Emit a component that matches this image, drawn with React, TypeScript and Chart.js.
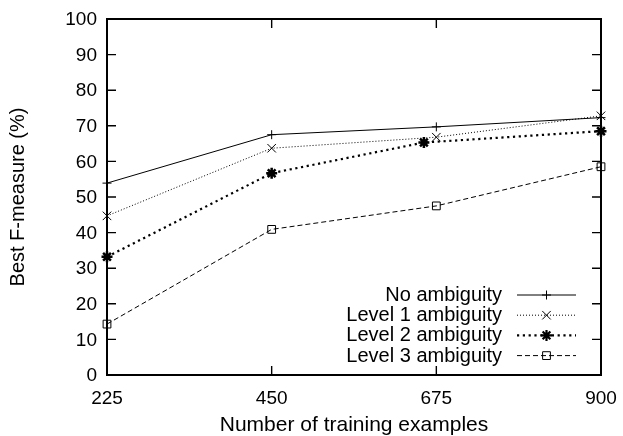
import { useEffect, useRef } from 'react';
import { Chart, registerables } from 'chart.js';
import { drawPoint } from 'chart.js/helpers';

Chart.register(...registerables);

const xTicks = [225, 450, 675, 900];
const yTicks = [0, 10, 20, 30, 40, 50, 60, 70, 80, 90, 100];
const seriesLabels = ['No ambiguity', 'Level 1 ambiguity', 'Level 2 ambiguity', 'Level 3 ambiguity'];

const noAmbX = [225, 450, 675, 900];
const noAmbY = [53.9, 67.5, 69.7, 72.3];
const lvl1X = [225, 450, 675, 900];
const lvl1Y = [44.7, 63.7, 66.8, 72.8];
const lvl2X = [225, 450, 658, 900];
const lvl2Y = [33.2, 56.7, 65.3, 68.5];
const lvl3X = [225, 450, 675, 900];
const lvl3Y = [14.3, 40.9, 47.5, 58.5];

const xTitle = 'Number of training examples';
const yTitle = 'Best F-measure (%)';

const FONT = '"Liberation Sans", Arial, Helvetica, sans-serif';

const toPoints = (xs: number[], ys: number[]) => xs.map((x, i) => ({ x, y: ys[i] }));

const framePlugin = {
  id: 'frameTicks',
  beforeDatasetsDraw(chart: any) {
    const { ctx, chartArea } = chart;
    const { left, right, top, bottom } = chartArea;
    const xs = chart.scales.x;
    const ys = chart.scales.y;
    const len = 9;
    ctx.save();
    ctx.strokeStyle = '#000';
    ctx.lineWidth = 1.4;
    ctx.beginPath();
    xTicks.forEach((v) => {
      const px = xs.getPixelForValue(v);
      ctx.moveTo(px, bottom);
      ctx.lineTo(px, bottom - len);
      ctx.moveTo(px, top);
      ctx.lineTo(px, top + len);
    });
    yTicks.forEach((v) => {
      const py = ys.getPixelForValue(v);
      ctx.moveTo(left, py);
      ctx.lineTo(left + len, py);
      ctx.moveTo(right, py);
      ctx.lineTo(right - len, py);
    });
    ctx.stroke();
    ctx.lineWidth = 2;
    ctx.strokeRect(left, top, right - left, bottom - top);
    ctx.restore();
  },
};

const legendPlugin = {
  id: 'insideLegend',
  afterDraw(chart: any) {
    const { ctx, chartArea } = chart;
    const textRight = chartArea.right - 99;
    const lineStart = chartArea.right - 84;
    const lineEnd = chartArea.right - 25;
    const firstY = chartArea.bottom - 80;
    const step = 20.2;
    ctx.save();
    chart.data.datasets.forEach((ds: any, i: number) => {
      const y = firstY + i * step;
      ctx.font = `20px ${FONT}`;
      ctx.fillStyle = '#000';
      ctx.textAlign = 'right';
      ctx.textBaseline = 'middle';
      ctx.fillText(ds.label, textRight, y + 0.5);
      ctx.strokeStyle = ds.borderColor;
      ctx.lineWidth = ds.borderWidth;
      ctx.setLineDash(ds.borderDash || []);
      ctx.beginPath();
      ctx.moveTo(lineStart, y);
      ctx.lineTo(lineEnd, y);
      ctx.stroke();
      ctx.setLineDash([]);
      ctx.strokeStyle = ds.pointBorderColor;
      ctx.fillStyle = ds.pointBackgroundColor;
      drawPoint(ctx, {
        pointStyle: ds.pointStyle,
        rotation: 0,
        radius: ds.pointRadius,
        borderWidth: ds.pointBorderWidth,
      } as any, (lineStart + lineEnd) / 2, y);
    });
    ctx.restore();
  },
};

export default function App() {
  const ref = useRef<HTMLCanvasElement>(null);
  useEffect(() => {
    if (!ref.current) return;
    const chart = new Chart(ref.current, {
      type: 'line',
      data: {
        datasets: [
          {
            label: seriesLabels[0],
            data: toPoints(noAmbX, noAmbY),
            borderColor: '#000',
            borderWidth: 1,
            borderDash: [],
            pointStyle: 'cross',
            pointRadius: 4.5,
            pointBorderWidth: 1,
            pointBorderColor: '#000',
            pointBackgroundColor: 'rgba(0,0,0,0)',
          },
          {
            label: seriesLabels[1],
            data: toPoints(lvl1X, lvl1Y),
            borderColor: '#000',
            borderWidth: 1,
            borderDash: [1, 2],
            pointStyle: 'crossRot',
            pointRadius: 6,
            pointBorderWidth: 1,
            pointBorderColor: '#000',
            pointBackgroundColor: 'rgba(0,0,0,0)',
          },
          {
            label: seriesLabels[2],
            data: toPoints(lvl2X, lvl2Y),
            borderColor: '#000',
            borderWidth: 2.2,
            borderDash: [2.2, 3.6],
            pointStyle: 'star',
            pointRadius: 5.5,
            pointBorderWidth: 2.5,
            pointBorderColor: '#000',
            pointBackgroundColor: '#000',
          },
          {
            label: seriesLabels[3],
            data: toPoints(lvl3X, lvl3Y),
            borderColor: '#000',
            borderWidth: 1,
            borderDash: [5, 3],
            pointStyle: 'rect',
            pointRadius: 5.5,
            pointBorderWidth: 1,
            pointBorderColor: '#000',
            pointBackgroundColor: 'rgba(0,0,0,0)',
          },
        ] as any,
      },
      options: {
        animation: false,
        responsive: false,
        clip: false as any,
        layout: { padding: { top: 19, right: 22, left: 0, bottom: 0 } },
        plugins: { legend: { display: false }, tooltip: { enabled: false } },
        elements: { line: { tension: 0 } },
        scales: {
          x: {
            type: 'linear',
            min: 225,
            max: 900,
            afterBuildTicks: (s: any) => {
              s.ticks = xTicks.map((v) => ({ value: v }));
            },
            afterFit: (s: any) => {
              s.height = 61;
              s.paddingLeft = 0;
              s.paddingRight = 0;
            },
            grid: { display: false, drawTicks: false },
            border: { display: false },
            ticks: {
              color: '#000',
              font: { family: FONT, size: 19, lineHeight: 1.2 },
              padding: 12.5,
              maxRotation: 0,
              autoSkip: false,
            },
            title: {
              display: true,
              text: xTitle,
              color: '#000',
              font: { family: FONT, size: 21, lineHeight: 1 },
              padding: 0,
            },
          },
          y: {
            type: 'linear',
            min: 0,
            max: 100,
            afterBuildTicks: (s: any) => {
              s.ticks = yTicks.map((v) => ({ value: v }));
            },
            afterFit: (s: any) => {
              s.width = 107;
              s.paddingTop = 0;
              s.paddingBottom = 0;
            },
            grid: { display: false, drawTicks: false },
            border: { display: false },
            ticks: {
              color: '#000',
              font: { family: FONT, size: 19 },
              padding: 10,
              labelOffset: 1,
            },
            title: {
              display: true,
              text: yTitle,
              color: '#000',
              font: { family: FONT, size: 20, lineHeight: 1 },
              padding: { top: 8, bottom: 0 },
            },
          },
        },
      },
      plugins: [framePlugin, legendPlugin],
    });
    return () => chart.destroy();
  }, []);
  return (
    <div style={{ position: 'absolute', left: 0, top: 0, width: 623, height: 436, background: '#fff' }}>
      <canvas ref={ref} width={623} height={436} style={{ display: 'block' }} />
    </div>
  );
}
